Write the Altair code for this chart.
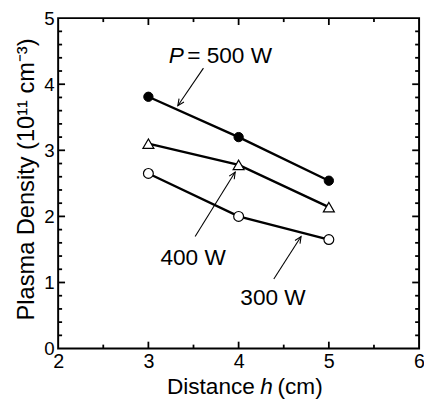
import altair as alt
import pandas as pd

# ---- data ----
h_values = [3, 4, 5]
density_500 = [3.81, 3.20, 2.54]
density_400 = [3.10, 2.78, 2.14]
density_300 = [2.65, 2.00, 1.65]

x_label_values = [2, 3, 4, 5, 6]
y_label_values = [0, 1, 2, 3, 4, 5]
x_major_ticks = [3, 4, 5]
x_minor_ticks = [2.5, 3.5, 4.5, 5.5]
y_major_ticks = [1, 2, 3, 4]
y_minor_ticks = [0.2, 0.4, 0.6, 0.8, 1.2, 1.4, 1.6, 1.8, 2.2, 2.4, 2.6, 2.8,
                 3.2, 3.4, 3.6, 3.8, 4.2, 4.4, 4.6, 4.8]

# annotations (data coordinates)
arrow_x = [3.610, 3.518, 4.390]
arrow_y = [4.243, 1.696, 1.053]
arrow_x2 = [3.326, 3.962, 4.692]
arrow_y2 = [3.675, 2.671, 1.696]
arrow_angle = [34.2, 211.8, 212.6]

FONT = "Liberation Sans"
W, H = 367, 336

xs = alt.Scale(domain=[2, 6], nice=False, zero=False)
ys = alt.Scale(domain=[0, 5], nice=False, zero=False)

rows = []
for name, vals in [("500 W", density_500), ("400 W", density_400), ("300 W", density_300)]:
    for h, v in zip(h_values, vals):
        rows.append({"h": h, "d": v, "P": name})
df = pd.DataFrame(rows)

x_axis = alt.Axis(values=x_label_values, format="d", ticks=False, tickSize=0, domain=False,
                  grid=False, title=None, labelFont=FONT, labelFontSize=20,
                  labelColor="black", labelPadding=3, labelFlush=False)
y_axis = alt.Axis(values=y_label_values, format="d", ticks=False, tickSize=0, domain=False,
                  grid=False, title=None, labelFont=FONT, labelFontSize=19, labelColor="black",
                  labelPadding=4, labelFlush=False)


def X(field):
    return alt.X(field, scale=xs, axis=x_axis)


def Y(field):
    return alt.Y(field, scale=ys, axis=y_axis)


lines = alt.Chart(df).mark_line(color="black", strokeWidth=2.4).encode(
    x=X("h:Q"), y=Y("d:Q"), detail="P:N")


def pts(name, **kw):
    return alt.Chart(df[df.P == name]).mark_point(**kw).encode(x=X("h:Q"), y=Y("d:Q"))


p500 = pts("500 W", shape="circle", filled=True, fill="black", stroke="black",
           strokeWidth=1, size=90, opacity=1)
p400 = pts("400 W", shape="triangle-up", filled=True, fill="white", stroke="black",
           strokeWidth=1.2, size=125, opacity=1)
p300 = pts("300 W", shape="circle", filled=True, fill="white", stroke="black",
           strokeWidth=1.2, size=100, opacity=1)


# tick marks (inward) on all four sides
def xticks(vals, length, top):
    d = pd.DataFrame({"v": vals})
    if top:
        yy, yy2 = alt.value(0), alt.value(length)
    else:
        yy, yy2 = alt.value(H), alt.value(H - length)
    return alt.Chart(d).mark_rule(color="black", strokeWidth=1.8).encode(
        x=X("v:Q"), y=yy, y2=yy2)


def yticks(vals, length, right):
    d = pd.DataFrame({"v": vals})
    if right:
        xx, xx2 = alt.value(W), alt.value(W - length)
    else:
        xx, xx2 = alt.value(0), alt.value(length)
    return alt.Chart(d).mark_rule(color="black", strokeWidth=1.8).encode(
        y=Y("v:Q"), x=xx, x2=xx2)


ticks = [xticks(x_major_ticks, 7, False), xticks(x_minor_ticks, 4, False),
         xticks(x_major_ticks, 7, True), xticks(x_minor_ticks, 4, True),
         yticks(y_major_ticks, 7, False), yticks(y_minor_ticks, 4, False),
         yticks(y_major_ticks, 7, True), yticks(y_minor_ticks, 4, True)]

arr_df = pd.DataFrame({"x": arrow_x, "y": arrow_y, "x2": arrow_x2, "y2": arrow_y2,
                       "ang": arrow_angle})
arrow_lines = alt.Chart(arr_df).mark_rule(color="black", strokeWidth=1.1).encode(
    x=X("x:Q"), y=Y("y:Q"), x2="x2:Q", y2="y2:Q")
arrow_heads = alt.Chart(arr_df).mark_point(
    shape="M-0.45,-1L0,0L0.45,-1", filled=False, stroke="black", strokeWidth=1.1,
    size=180, opacity=1).encode(
    x=X("x2:Q"), y=Y("y2:Q"), angle=alt.Angle("ang:Q", scale=None))


def label(txt, x, y, align, italic=False):
    d = pd.DataFrame({"x": [x], "y": [y], "t": [txt]})
    kw = dict(font=FONT, fontSize=23, color="black", align=align, baseline="alphabetic")
    if italic:
        kw["fontStyle"] = "italic"
    return alt.Chart(d).mark_text(**kw).encode(x=X("x:Q"), y=Y("y:Q"), text="t:N")


ann = [label("P", 3.392, 4.318, "right", True),
       label("= 500 W", 3.43, 4.318, "left"),
       label("400 W", 3.496, 1.266, "center"),
       label("300 W", 4.381, 0.657, "center")]


def ptext(txt, px, py, align, italic=False, angle=0, size=23):
    d = pd.DataFrame({"t": [txt]})
    kw = dict(font=FONT, fontSize=size, color="black", align=align, baseline="alphabetic")
    if italic:
        kw["fontStyle"] = "italic"
    if angle:
        kw["angle"] = angle
    return alt.Chart(d).mark_text(**kw).encode(x=alt.value(px), y=alt.value(py), text="t:N")


titles = [ptext("Distance", 200, 382, "right"), ptext("h", 212, 382, "center", True),
          ptext("(cm)", 223, 382, "left"),
          ptext("Plasma Density (10¹¹ cm⁻³)", -25, 164, "center", angle=270, size=24)]

chart = alt.layer(*ticks, lines, arrow_lines, arrow_heads, p300, p400, p500, *ann, *titles).properties(
    width=W, height=H,
    autosize=alt.AutoSizeParams(type="none"),
    padding={"left": 51, "top": 7, "right": 5, "bottom": 50},
).configure_view(stroke="black", strokeWidth=2)

chart.save("out.html", embed_options={"renderer": "svg", "actions": False})
